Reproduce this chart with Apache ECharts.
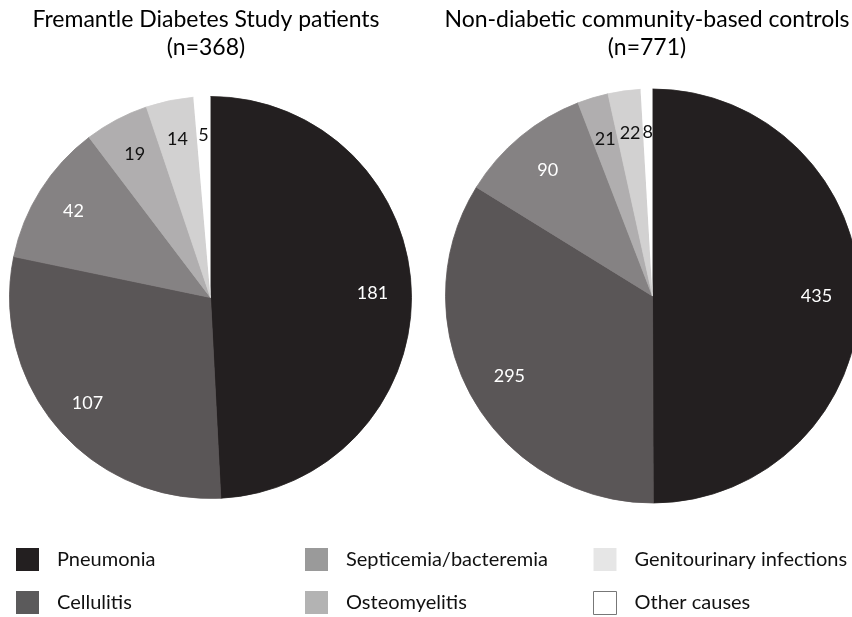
<!DOCTYPE html>
<html>
<head>
<meta charset="utf-8">
<script src="https://cdn.jsdelivr.net/npm/echarts@6/dist/echarts.min.js"></script>
<style>html,body{margin:0;padding:0;background:#fff}#c{width:852px;height:617px}</style>
</head>
<body>
<div id="c"></div>
<script>
var categories = ['Pneumonia', 'Cellulitis', 'Septicemia/bacteremia', 'Osteomyelitis', 'Genitourinary infections', 'Other causes'];
var diabetesValues = [181, 107, 42, 19, 14, 5];
var controlValues = [435, 295, 90, 21, 22, 8];
var titleLeft = 'Fremantle Diabetes Study patients\n(n=368)';
var titleRight = 'Non-diabetic community-based controls\n(n=771)';

var sliceColors = ['#231f20', '#5a5657', '#858283', '#b0aeaf', '#d2d1d1', '#ffffff'];
var legendColors = ['#231f20', '#5b5a5b', '#9a9a9a', '#b3b3b3', '#e6e6e6', '#ffffff'];
var labelColors = ['#ffffff', '#ffffff', '#ffffff', '#111111', '#111111', '#111111'];
var FONT = 'Lato';

function pieData(values) {
  return values.map(function (v, i) {
    return { name: categories[i], value: v,
      itemStyle: { color: sliceColors[i], borderColor: sliceColors[i], borderWidth: i === 5 ? 0 : 0.8 } };
  });
}
function labelData(values) {
  return values.map(function (v, i) {
    return { name: categories[i], value: v, itemStyle: { color: 'rgba(0,0,0,0)', borderWidth: 0 },
      label: { color: labelColors[i] } };
  });
}
function pieSeries(values, center, r, labelR) {
  return [{
    type: 'pie', center: center, radius: [0, r], startAngle: 90, clockwise: true,
    silent: true, animation: false, label: { show: false }, labelLine: { show: false },
    emphasis: { disabled: true }, data: pieData(values)
  }, {
    type: 'pie', center: center, radius: [2 * labelR - r, r], startAngle: 90, clockwise: true,
    silent: true, animation: false, legendHoverLink: false,
    itemStyle: { borderWidth: 0 },
    label: { show: true, position: 'inside', formatter: '{c}', fontFamily: FONT, fontSize: 18 },
    labelLine: { show: false }, emphasis: { disabled: true }, data: labelData(values)
  }];
}
function legendCol(names, left) {
  return {
    orient: 'vertical', left: left, top: 548, itemWidth: 23, itemHeight: 23, itemGap: 20,
    padding: 0, selectedMode: false, icon: 'rect',
    textStyle: { fontFamily: FONT, fontSize: 20, color: '#111', padding: [0, 0, 0, 13] },
    data: names.map(function (n) {
      var i = categories.indexOf(n);
      return { name: n, itemStyle: { color: legendColors[i], borderColor: i === 5 ? '#777' : legendColors[i], borderWidth: i === 5 ? 1 : 0 } };
    })
  };
}

var chart = echarts.init(document.getElementById('c'), null, { renderer: 'canvas' });
chart.setOption({
  backgroundColor: '#fff',
  animation: false,
  title: [
    { text: titleLeft, left: 206, top: 6, padding: 0, textAlign: 'center',
      textStyle: { fontFamily: FONT, fontSize: 23, fontWeight: 'normal', color: '#000', lineHeight: 28 } },
    { text: titleRight, left: 647, top: 6, padding: 0, textAlign: 'center',
      textStyle: { fontFamily: FONT, fontSize: 23, fontWeight: 'normal', color: '#000', lineHeight: 28 } }
  ],
  legend: [
    legendCol([categories[0], categories[1]], 16),
    legendCol([categories[2], categories[3]], 305),
    legendCol([categories[4], categories[5]], 593)
  ],
  series: pieSeries(diabetesValues, [210.5, 297.5], 201, 159)
    .concat(pieSeries(controlValues, [652.5, 296], 207, 161))
});
</script>
</body>
</html>
